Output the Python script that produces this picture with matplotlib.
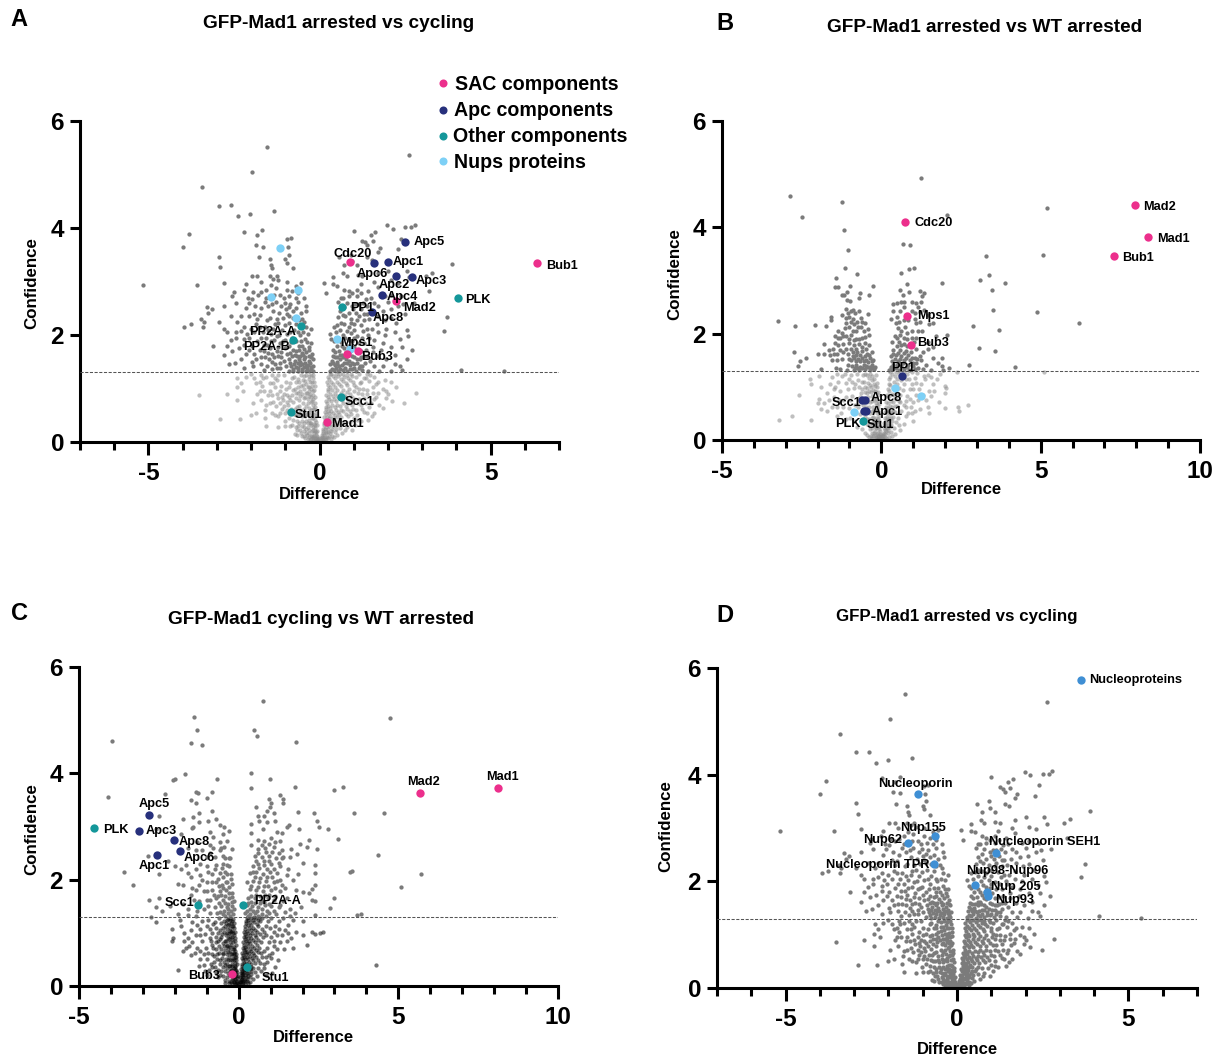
import matplotlib
matplotlib.use("Agg")
import matplotlib.pyplot as plt

W, H = 1223, 1059
plt.rcParams['font.family'] = ['Liberation Sans', 'DejaVu Sans']
plt.rcParams['axes.unicode_minus'] = False

GREY = '#7b7b7b'
PINK = '#ec2f8c'
NAVY = '#27307c'
TEAL = '#14979a'
SKY = '#7dd0f6'
BLUE = '#3f8fd4'

# panels A and D show the same proteins
ad_upper = [
    (-1.53,5.52),(-1.96,5.05),(-3.42,4.77),(-2.95,4.42),(-2.58,4.43),(-1.32,4.32),(-2.37,4.22),(-2.02,4.27),
    (-3.82,3.88),(-3.99,3.64),(-2.2,3.93),(-1.67,3.96),(-1.82,3.86),(-.96,3.79),(-.84,3.81),(-1.87,3.68),
    (-1.66,3.65),(-.92,3.64),(-2.95,3.46),(-2.9,3.27),(-5.16,2.94),(-3.58,2.94),(-2.8,2.98),(2.63,5.36),
    (1.0,3.95),(1.97,4.05),(2.14,3.99),(2.51,4.02),(2.67,4.02),(2.78,4.06),(2.38,3.8),(3.88,3.32),(3.2,2.82),
    (3.72,2.33),(3.63,2.08),(4.13,1.35),(5.38,1.32),(1.63,3.92),(1.5,3.86),(1.24,3.76),(1.34,3.74),(1.39,3.68),
    (1.76,3.63),(1.7,3.56),(2.28,3.6),(1.55,3.75),(.57,3.45),(1.4,3.45),(1.52,3.41),(.92,3.5),(.95,3.38),(1.1,3.3),
    (.72,3.3),(.7,3.15),(1.12,3.12),(1.25,3.1),(.4,3.08),(.8,3.1),(1.7,3.15),(2.0,3.2),(2.55,3.2),(2.62,3.08),
    (3.12,3.1),(3.3,3.16),(2.1,3.02),(2.3,2.98),(1.6,3.0),(1.7,2.9),(.12,2.97),(.4,2.95),(.52,2.92),(.72,2.85),
    (1.2,2.95),(.68,2.7),(.18,2.78),(.95,2.78),(.85,2.72),(1.1,2.72),(1.22,2.78),(1.42,2.82),(1.5,2.7),(2.1,2.75),
    (2.38,2.72),(2.0,2.62),(.55,2.62),(.8,2.6),(1.05,2.58),(1.28,2.6),(1.72,2.55),(.6,2.45),(.98,2.48),(1.22,2.48),
    (1.38,2.4),(1.85,2.45),(2.08,2.48),(2.45,2.58),(2.75,2.6),(.55,2.33),(.75,2.35),(.92,2.3),(1.15,2.35),(1.3,2.28),
    (1.45,2.3),(2.1,2.32),(2.5,2.4),(.52,2.18),(.72,2.2),(.85,2.15),(1.02,2.2),(1.2,2.18),(1.38,2.12),(1.68,2.2),
    (2.55,2.1),(2.2,2.05),(.3,2.02),(.48,2.05),(.7,2.0),(.92,2.03),(1.1,1.98),(1.42,2.0),(1.9,2.0),(2.35,1.93),
    (2.6,1.98),(.42,1.88),(.62,1.86),(.85,1.9),(1.3,1.85),(1.6,1.9),(2.1,1.78),(2.42,1.78),(2.7,1.72),(.4,1.72),
    (.58,1.7),(.72,1.75),(1.02,1.78),(1.22,1.7),(1.55,1.68),(.45,1.58),(.6,1.55),(.78,1.56),(.95,1.6),(1.1,1.55),
    (1.4,1.6),(1.72,1.6),(2.2,1.62),(2.55,1.55),(.32,1.45),(.45,1.44),(.58,1.42),(.72,1.47),(.88,1.43),(1.02,1.46),
    (1.18,1.42),(1.32,1.48),(1.6,1.42),(2.35,1.42),(2.42,1.35),(.3,1.33),(.42,1.35),(.55,1.32),(.68,1.35),(.8,1.33),
    (.95,1.36),(1.08,1.33),(1.25,1.35),(1.42,1.33),(1.75,1.33),(2.08,1.32),(.36,1.52),(.5,1.5),(.66,1.62),(.85,1.66),
    (-1.78,3.45),(-1.45,3.42),(-1.42,3.3),(-1.0,3.42),(-.9,3.5),(-.95,3.35),(-.78,3.25),(-1.4,3.25),(-1.82,3.1),
    (-1.97,3.1),(-1.45,3.1),(-1.35,3.05),(-1.25,3.1),(-1.2,3.02),(-.95,3.0),(-.55,2.97),(-.7,2.92),(-1.72,3.0),
    (-2.15,2.95),(-2.22,2.85),(-1.42,2.93),(-1.27,2.88),(-.96,2.85),(-.62,2.78),(-2.5,2.8),(-2.55,2.72),(-2.1,2.7),
    (-1.98,2.68),(-1.8,2.75),(-1.7,2.8),(-1.15,2.75),(-.88,2.72),(-.7,2.7),(-.45,2.7),(-2.45,2.6),(-2.07,2.6),
    (-1.88,2.55),(-1.6,2.62),(-1.02,2.6),(-.85,2.58),(-.62,2.62),(-.4,2.55),(-3.3,2.53),(-3.15,2.48),(-3.25,2.42),
    (-2.8,2.55),(-1.35,2.45),(-1.17,2.42),(-.98,2.48),(-.78,2.45),(-.55,2.42),(-.38,2.45),(-3.45,2.3),(-3.38,2.25),
    (-2.3,2.35),(-2.05,2.35),(-1.75,2.38),(-1.45,2.32),(-1.08,2.32),(-.9,2.35),(-.5,2.3),(-3.95,2.15),(-3.75,2.2),
    (-3.4,2.15),(-2.95,2.25),(-2.8,2.12),(-2.4,2.25),(-2.2,2.15),(-1.85,2.2),(-1.6,2.15),(-1.3,2.2),(-1.02,2.18),
    (-.75,2.1),(-.4,2.15),(-.25,2.12),(-2.7,2.05),(-2.45,2.05),(-2.12,2.02),(-1.9,2.05),(-1.42,2.02),(-1.18,2.0),
    (-.95,2.02),(-.58,2.0),(-.35,2.02),(-2.45,1.95),(-2.2,1.92),(-1.72,1.95),(-1.32,1.9),(-1.08,1.88),(-.68,1.88),
    (-.42,1.92),(-3.12,1.8),(-2.7,1.8),(-2.2,1.82),(-1.98,1.8),(-1.52,1.82),(-1.22,1.78),(-.9,1.8),(-.6,1.8),
    (-.32,1.78),(-.25,1.85),(-2.8,1.62),(-2.15,1.65),(-1.9,1.65),(-1.62,1.7),(-1.38,1.65),(-1.12,1.68),(-.85,1.66),
    (-.68,1.7),(-.52,1.66),(-.38,1.68),(-.22,1.65),(-2.65,1.45),(-2.48,1.48),(-2.2,1.38),(-1.98,1.5),(-1.72,1.45),
    (-1.48,1.55),(-1.3,1.45),(-1.05,1.52),(-.88,1.55),(-.72,1.52),(-.6,1.56),(-.45,1.55),(-.32,1.52),(-.2,1.55),
    (-1.62,1.35),(-1.4,1.36),(-1.15,1.38),(-.98,1.42),(-.82,1.42),(-.7,1.4),(-.58,1.44),(-.46,1.4),(-.35,1.44),
    (-.26,1.4),(-.18,1.42),(-.9,1.33),(-.76,1.32),(-.64,1.33),(-.52,1.32),(-.4,1.33),(-.3,1.32),(-.2,1.33),(-.56,1.5),
    (-.42,1.48),(-.66,1.6),(-.48,1.62),(-.3,1.6),
]
# second pass over the crowded arms of the V
ad_upper_core = [
    (-.78,1.36),(-.62,1.38),(-.5,1.37),(-.37,1.38),(-.24,1.36),(-.86,1.48),(-.75,1.46),(-.64,1.47),(-.52,1.45),(-.39,1.42),(-.27,1.47),
    (-.8,1.6),(-.72,1.62),(-.57,1.6),(-.42,1.58),(-.24,1.58),(-.95,1.65),(-.78,1.72),(-.6,1.72),(-.45,1.74),(-.3,1.72),(-1.0,1.75),
    (-.82,1.86),(-.55,1.88),(-.5,1.8),(-.36,1.86),(-1.22,1.6),(-1.15,1.47),(-1.38,1.5),(-1.25,1.7),(-1.45,1.75),(-1.02,1.9),(-.8,1.95),
    (-.62,2.05),(-.47,2.05),(-.85,2.05),(-1.1,2.1),(-1.25,1.98),(-.68,2.2),(-.88,2.22),(-1.2,2.22),(-.6,2.28),(-.76,2.32),(-.95,2.4),
    (-1.55,1.95),(-1.65,2.05),(-1.82,1.88),(-1.6,1.58),(-1.85,1.55),(-.45,2.25),(-.68,2.5),(-.9,2.52),(-1.12,2.55),(-1.28,2.62),
    (-1.5,2.55),(-1.7,2.5),(-1.9,2.4),(-1.05,2.7),(-.8,2.82),(-1.55,2.7),(-1.32,2.75),
    (.36,1.36),(.48,1.38),(.6,1.37),(.74,1.39),(.88,1.37),(1.0,1.39),(1.15,1.38),(.4,1.48),(.52,1.45),(.65,1.44),(.8,1.47),(.94,1.48),
    (1.1,1.47),(1.25,1.42),(.38,1.6),(.52,1.58),(.7,1.58),(.86,1.52),(1.02,1.58),(1.18,1.55),(1.3,1.6),(.46,1.68),(.6,1.62),(.78,1.68),
    (.92,1.72),(1.1,1.68),(1.35,1.72),(.5,1.8),(.66,1.8),(.82,1.8),(.96,1.88),(1.15,1.85),(.34,1.92),(.55,1.95),(.75,1.94),(1.0,1.95),
    (1.25,1.95),(.42,2.15),(.6,2.1),(.8,2.08),(1.0,2.1),(1.28,2.08),(.62,2.22),(.92,2.22),(1.1,2.28),(.68,2.38),(.85,2.42),(1.08,2.42),
    (1.3,2.4),(.72,2.52),(.95,2.55),(1.15,2.58),(1.4,2.55),(.62,2.7),(1.35,2.68),(.85,2.82),(1.1,2.85),
    (-1.12,1.58),(-1.32,1.58),(-1.5,1.66),(-1.75,1.72),(-2.05,1.72),(-2.35,1.75),(-1.95,1.42),(-1.52,1.42),(-1.25,1.38),(-1.72,1.58),(-2.3,1.55),
    (-1.15,1.85),(-1.42,1.88),(-1.62,1.82),(-2.05,1.95),(-2.3,2.08),(-1.5,2.1),(-1.35,2.12),(-1.75,2.15),(-2.0,2.12),(-1.52,2.28),(-1.25,2.3),
    (-1.82,2.3),(-2.15,2.5),(-1.38,2.58),(-1.95,2.8),(-1.55,2.85),(-2.6,2.35),(-2.55,1.7),(-2.6,1.9),
    (1.22,1.58),(1.48,1.52),(1.55,1.78),(1.8,1.72),(1.95,1.55),(1.85,1.42),(1.45,1.95),(1.7,2.05),(1.95,2.12),(1.52,2.12),(1.58,2.42),(1.72,2.35),
    (1.92,2.28),(1.6,2.6),(1.9,2.72),(2.25,2.22),(2.3,2.55),(1.85,1.85),(2.2,1.45),
]

ad_lower = [
    (-3.52,.87),(-2.7,.9),(-2.41,.78),(-2.9,.43),(-2.32,.43),(2.83,.92),(2.47,.72),(-2.4,1.2),(-2.3,1.1),(-2.42,1.02),
    (-2.15,1.22),(-2.0,1.28),(-1.75,1.12),(-1.68,1.05),(-1.62,.95),(-1.72,.78),(-1.55,.7),(-1.95,.72),(-2.0,.5),
    (-1.85,.55),(-1.6,.45),(-1.4,1.25),(-1.45,1.1),(-1.3,1.02),(-1.38,.88),(-1.22,.82),(-1.15,.95),(-1.28,.68),
    (-1.4,.55),(-1.1,.62),(-1.2,.48),(-1.02,.4),(-1.05,1.25),(-.98,1.12),(-.9,1.02),(-.96,.88),(-.85,.78),(-.92,.7),
    (-.82,.62),(-.9,.45),(-.78,.42),(-.85,.3),(-.7,.28),(-.75,1.22),(-.68,1.12),(-.72,1.0),(-.62,.92),(-.7,.82),
    (-.6,.78),(-.66,.66),(-.56,.6),(-.64,.5),(-.52,.48),(-.6,.36),(-.5,.3),(-.58,.22),(-.44,.2),(-.55,1.25),(-.48,1.15),
    (-.55,1.05),(-.44,1.0),(-.5,.9),(-.42,.85),(-.48,.72),(-.4,.68),(-.45,.55),(-.36,.52),(-.4,.4),(-.34,.36),(-.38,.25),
    (-.3,.22),(-.36,.14),(-.26,.12),(-.38,1.25),(-.32,1.18),(-.38,1.08),(-.3,1.02),(-.36,.92),(-.28,.9),(-.34,.8),
    (-.26,.75),(-.32,.64),(-.24,.6),(-.28,.5),(-.22,.44),(-.26,.32),(-.2,.28),(-.22,.2),(-.16,.16),(-.18,.1),(-.12,.08),
    (-.14,.04),(-.08,.03),(-.05,.06),(-.1,.14),(-.25,1.25),(-.22,1.12),(-.26,1.0),(-.2,.95),(-.24,.85),(-.18,.8),(-.2,.7),
    (-.16,.62),(-.18,.52),(-.14,.42),(-.16,.34),(-.12,.26),(-.09,.18),(-.06,.11),(-.03,.02),(-.18,1.2),(-.14,1.05),
    (-.13,.72),(-.11,.55),(-.1,.38),(-.3,.42),(-.44,.12),(-.34,.06),(-.24,.05),(-.18,.04),(-.52,.12),(-.66,.14),
    (-1.2,.28),(-1.55,.3),(-1.82,.9),(-2.25,.95),(-1.55,1.22),(-1.25,1.15),(-1.08,.78),(-.72,.15),
    (.03,.02),(.06,.05),(.1,.03),(.15,.06),(.08,.1),(.2,.05),(.26,.08),(.14,.14),(.34,.06),(.42,.1),(.2,.16),(.11,.2),
    (.3,.16),(.5,.14),(.66,.16),(.16,.24),(.25,.25),(.36,.24),(.48,.24),(.6,.26),(.8,.28),(.14,.32),(.22,.34),(.32,.34),
    (.44,.32),(.56,.36),(.72,.38),(.95,.22),(1.05,.32),(.17,.42),(.27,.44),(.38,.44),(.5,.46),(.64,.46),(.82,.48),
    (1.0,.44),(1.2,.4),(1.42,.42),(1.52,.48),(.18,.52),(.28,.55),(.4,.54),(.54,.56),(.7,.58),(.88,.58),(1.08,.6),(1.3,.56),
    (1.6,.55),(.2,.62),(.3,.64),(.44,.66),(.6,.68),(.76,.68),(.96,.7),(1.2,.7),(1.45,.66),(1.75,.7),(1.85,.64),(.22,.72),
    (.34,.76),(.48,.76),(.66,.78),(.84,.78),(1.04,.8),(1.3,.82),(1.58,.8),(1.95,.82),(2.12,.76),(.24,.84),(.38,.86),
    (.52,.86),(.72,.88),(.9,.9),(1.12,.92),(1.38,.9),(1.7,.92),(2.0,.9),(.26,.95),(.36,.98),(.5,.97),(.68,.98),(.86,1.0),
    (1.06,1.02),(1.26,1.0),(1.55,1.02),(1.85,1.0),(2.25,1.02),(.25,1.06),(.4,1.08),(.56,1.08),(.76,1.1),(.98,1.12),
    (1.18,1.1),(1.45,1.14),(1.72,1.12),(.28,1.17),(.44,1.19),(.62,1.18),(.82,1.2),(1.06,1.22),(1.3,1.2),(1.6,1.22),
    (.3,1.27),(.48,1.27),(.7,1.27),(.92,1.28),(1.14,1.28),(1.4,1.27),
]
ad_lower_core = [
    (-.8,1.2),(-.62,1.18),(-.46,1.24),(-.3,1.24),(-.2,1.26),(-.85,1.1),(-.6,1.12),(-.42,1.14),(-.28,1.12),(-.16,1.12),(-.78,.98),(-.62,1.02),
    (-.47,1.06),(-.35,1.02),(-.22,1.04),(-.8,.88),(-.56,.96),(-.4,.92),(-.3,.96),(-.16,.98),(-.76,.74),(-.58,.86),(-.45,.82),(-.3,.86),(-.2,.88),
    (-.72,.62),(-.6,.68),(-.44,.62),(-.34,.72),(-.22,.76),(-.14,.84),(-.7,.5),(-.56,.52),(-.42,.48),(-.3,.56),(-.2,.62),(-.12,.66),(-.66,.4),
    (-.52,.4),(-.46,.36),(-.28,.36),(-.18,.44),(-.1,.48),(-.62,.3),(-.44,.28),(-.34,.28),(-.24,.36),(-.14,.32),(-.08,.32),(-.54,.16),(-.4,.17),
    (-.3,.17),(-.2,.22),(-.12,.2),(-.06,.2),(-.42,.08),(-.3,.09),(-.22,.11),(-.15,.12),(-.08,.08),(-.02,.08),(-.28,.03),(-.2,.07),(-.1,.05),(-.04,.04),
    (-1.0,.55),(-1.15,.72),(-1.05,.9),(-1.25,.9),(-1.0,.3),(-.95,.6),(-.9,.85),(-.98,1.0),(-1.12,1.05),(-1.3,1.2),
    (.04,.07),(.1,.08),(.16,.1),(.22,.1),(.28,.12),(.36,.12),(.06,.14),(.1,.16),(.18,.18),(.26,.19),(.35,.2),(.44,.18),(.1,.24),(.2,.28),(.29,.3),
    (.4,.29),(.52,.31),(.13,.36),(.19,.36),(.26,.37),(.34,.4),(.44,.4),(.6,.4),(.14,.46),(.22,.46),(.32,.48),(.44,.5),(.58,.52),(.76,.52),(.16,.56),
    (.24,.58),(.34,.58),(.47,.6),(.62,.6),(.8,.62),(.18,.66),(.26,.68),(.36,.7),(.52,.7),(.68,.72),(.86,.72),(.2,.76),(.28,.8),(.42,.8),(.58,.82),
    (.76,.84),(.96,.84),(.2,.88),(.32,.9),(.46,.92),(.62,.92),(.8,.94),(1.02,.95),(.24,1.0),(.32,1.02),(.46,1.02),(.62,1.04),(.8,1.06),(1.0,1.07),
    (.22,1.12),(.35,1.13),(.5,1.13),(.68,1.14),(.88,1.16),(.24,1.22),(.38,1.23),(.54,1.23),(.72,1.22),(.96,1.24),(.35,1.28),(.6,1.28),(.8,1.26),
    (1.1,.5),(1.15,.8),(1.25,.9),(1.35,.72),(.9,.38),(.75,.22),
    (-1.7,1.25),(-1.85,1.1),(-1.5,.88),(-1.35,.75),(-1.58,.6),(-1.3,.5),(-1.15,.55),(-1.05,.68),(-1.2,1.25),(-1.35,1.1),(-1.1,.85),(-.95,.75),
    (-.88,.55),(-.75,.52),(-.7,.92),(-.8,.32),(-.65,.22),(-1.45,.95),(-1.65,1.2),(-1.9,1.2),(-1.45,.72),(-1.75,.95),
    (1.12,.72),(1.25,.62),(1.38,.55),(1.5,.72),(1.65,.85),(1.4,.98),(1.55,.92),(1.22,1.12),(1.35,1.2),(1.65,1.08),(1.9,1.15),(1.95,.95),(1.1,.42),
    (.92,.52),(.98,.62),(1.15,1.0),(1.48,1.26),(2.1,1.12),
]

b_upper = [
    (-2.88,4.58),(-2.48,4.2),(-1.22,4.47),(-1.17,3.95),(-1.05,3.58),(-1.13,3.24),(-.75,3.12),(-1.43,3.05),(-1.45,2.88),
    (-1.37,2.88),(-.98,2.9),(-.25,2.89),(-1.08,2.78),(-1.25,2.72),(-1.17,2.72),(-.67,2.76),(-.4,2.72),(-.7,2.68),
    (-1.08,2.63),(-.98,2.62),(-1.1,2.46),(-1.05,2.38),(-.95,2.42),(-.88,2.44),(-.42,2.37),(-3.25,2.24),(-2.7,2.14),
    (-2.07,2.16),(-1.75,2.15),(-1.58,2.32),(-1.58,2.25),(-1.12,2.3),(-1.0,2.32),(-.88,2.28),(-.65,2.3),(-.6,2.22),
    (-.5,2.2),(-1.35,2.05),(-1.25,2.02),(-1.15,2.1),(-1.02,2.12),(-.85,2.18),(-.72,2.12),(-.55,2.05),(-.42,2.08),
    (-1.45,1.95),(-1.3,1.92),(-1.1,1.96),(-.95,1.98),(-.78,1.9),(-.6,1.92),(-.4,1.98),(-1.8,1.8),(-1.45,1.82),(-1.52,1.72),
    (-1.35,1.78),(-1.2,1.8),(-1.0,1.82),(-.85,1.78),(-.7,1.8),(-.5,1.82),(-.38,1.78),(-2.75,1.65),(-2.0,1.62),(-1.8,1.62),
    (-1.6,1.6),(-1.4,1.62),(-1.2,1.65),(-1.05,1.62),(-.9,1.66),(-.75,1.65),(-.6,1.68),(-.45,1.62),(-.3,1.65),(-2.35,1.55),
    (-2.55,1.48),(-1.55,1.5),(-1.25,1.52),(-1.0,1.52),(-.85,1.54),(-.72,1.52),(-.6,1.54),(-.48,1.5),(-.35,1.54),(-.25,1.5),
    (-2.62,1.39),(-1.9,1.34),(-1.42,1.36),(-1.3,1.34),(-1.05,1.42),(-.92,1.4),(-.78,1.42),(-.66,1.38),(-.55,1.42),
    (-.42,1.38),(-.3,1.42),(-.2,1.38),(-1.08,1.32),(-.85,1.32),(-.7,1.32),(-.5,1.33),(-.36,1.32),(-.22,1.33),
    (1.26,4.93),(2.07,4.23),(.68,3.68),(.89,3.67),(3.27,3.47),(5.07,3.48),(5.2,4.37),(.87,3.21),(1.01,3.23),(.62,3.15),
    (3.37,3.1),(3.1,3.0),(3.89,2.96),(1.89,2.95),(.8,2.93),(.6,2.82),(.88,2.78),(1.2,2.8),(.68,2.72),(1.33,2.76),(1.28,2.7),
    (.48,2.58),(.62,2.6),(.7,2.6),(.95,2.6),(1.1,2.58),(1.25,2.6),(3.47,2.82),(.38,2.56),(3.5,2.45),(4.87,2.4),(.38,2.42),
    (1.35,2.45),(1.2,2.4),(1.05,2.38),(.6,2.42),(1.45,2.35),(.3,2.28),(.55,2.22),(.7,2.25),(1.05,2.28),(1.1,2.2),(1.63,2.2),
    (1.5,2.18),(2.89,2.14),(6.2,2.2),(3.7,2.06),(.52,2.1),(.75,2.12),(.95,2.05),(1.28,2.05),(1.7,1.96),(2.05,1.97),(.42,1.95),
    (.6,1.98),(.82,1.9),(1.1,1.92),(1.45,1.85),(.35,1.85),(.55,1.85),(.7,1.8),(1.62,1.75),(1.45,1.72),(3.08,1.73),(3.58,1.68),
    (.38,1.7),(.58,1.7),(.78,1.68),(1.1,1.72),(1.3,1.65),(.3,1.58),(.45,1.6),(.62,1.58),(.85,1.6),(1.05,1.55),(1.2,1.58),
    (1.62,1.55),(1.9,1.55),(.35,1.48),(.52,1.48),(.7,1.5),(.9,1.5),(1.1,1.45),(1.25,1.5),(1.78,1.45),(.3,1.38),(.45,1.36),
    (.62,1.4),(.8,1.38),(.98,1.4),(1.15,1.36),(1.4,1.42),(1.9,1.4),(2.13,1.36),(2.75,1.41),(4.2,1.38),(.25,1.32),(.55,1.32),
    (.72,1.33),(.88,1.32),(1.05,1.33),(1.32,1.33),(1.55,1.32),(1.95,1.32),
]
b_upper_core = [
    (-.82,1.36),(-.72,1.36),(-.6,1.36),(-.48,1.4),(-.36,1.38),(-.26,1.36),(-.95,1.5),(-.78,1.48),(-.66,1.48),(-.54,1.48),(-.42,1.46),(-.3,1.48),
    (-.9,1.58),(-.8,1.6),(-.66,1.6),(-.52,1.58),(-.38,1.6),(-.95,1.72),(-.78,1.72),(-.62,1.74),(-.48,1.72),(-1.1,1.72),(-1.3,1.7),(-1.0,1.9),
    (-.85,1.88),(-.7,1.9),(-.52,1.94),(-1.2,1.95),(-.9,2.05),(-.78,2.05),(-.65,2.12),(-1.1,2.2),(-.95,2.22),(-.75,2.22),(-.82,2.38),
    (-1.4,1.5),(-1.5,1.62),(-1.65,1.7),(-1.35,1.92),(-.7,2.42),(-1.25,2.35),
    (.3,1.34),(.38,1.42),(.5,1.42),(.68,1.44),(.84,1.42),(1.0,1.45),(.42,1.52),(.6,1.52),(.78,1.54),(.95,1.55),(1.12,1.52),(.38,1.62),(.52,1.64),
    (.7,1.64),(.92,1.66),(.48,1.76),(.62,1.78),(.82,1.76),(1.02,1.84),(.48,1.92),(.7,1.92),(.95,1.92),(.62,2.05),(.82,2.02),(1.15,2.05),(.45,2.2),
    (.85,2.25),(1.2,2.22),(.5,2.32),(.95,2.42),(.72,2.5),(1.15,2.5),
]

b_lower = [
    (-3.2,.38),(-2.8,.46),(-2.2,.38),(-2.58,.85),(-2.25,1.15),(-2.2,1.05),(-1.95,1.2),(-1.9,1.0),(-1.95,.78),(-2.0,.7),(-1.8,.7),
    (-1.9,.58),(-1.7,.55),(-1.72,.88),(-1.55,1.18),(-1.6,1.05),(-1.5,.95),(-1.5,.8),(-1.55,.62),(-1.4,.45),(-1.38,1.25),(-1.35,1.1),
    (-1.3,.92),(-1.32,.75),(-1.2,.62),(-1.28,.5),(-1.1,.4),(-1.15,1.25),(-1.12,1.08),(-1.05,.95),(-1.1,.8),(-1.02,.6),(-.98,.42),
    (-.95,1.22),(-.92,1.1),(-.86,.98),(-.92,.82),(-.82,.66),(-.86,.36),(-.76,.24),(-.75,1.25),(-.72,1.12),(-.7,1.0),(-.65,.88),
    (-.72,.62),(-.66,.48),(-.62,.2),(-.58,1.22),(-.55,1.1),(-.6,.95),(-.5,.9),(-.56,.66),(-.48,.62),(-.52,.44),(-.46,.3),(-.52,.14),
    (-.44,1.22),(-.42,1.08),(-.46,.98),(-.38,.92),(-.42,.8),(-.36,.72),(-.4,.62),(-.34,.5),(-.38,.4),(-.3,.32),(-.36,.2),(-.3,.14),
    (-.34,1.25),(-.3,1.12),(-.32,1.0),(-.26,.94),(-.3,.82),(-.24,.75),(-.27,.62),(-.22,.56),(-.25,.44),(-.2,.38),(-.22,.28),(-.16,.24),
    (-.2,.16),(-.14,.12),(-.26,.08),(-.16,.06),(-.1,.07),(-.07,.03),(-.22,1.15),(-.2,1.02),(-.16,.9),(-.18,.78),(-.14,.65),(-.15,.5),
    (-.12,.4),(-.1,.3),(-.08,.2),(-.05,.12),(-.03,.05),(-.44,.1),(-.38,.06),(-.28,.04),(-.18,.03),(-.1,.02),
    (.02,.03),(.06,.02),(.1,.05),(.16,.03),(.24,.05),(.32,.08),(.05,.08),(.12,.11),(.2,.13),(.3,.15),(.44,.12),(.6,.18),(.1,.18),
    (.18,.22),(.28,.24),(.4,.22),(.55,.28),(.12,.28),(.22,.32),(.32,.35),(.46,.34),(.7,.3),(.15,.38),(.25,.42),(.38,.44),(.52,.42),
    (.78,.45),(.98,.36),(.18,.5),(.3,.53),(.44,.52),(.62,.55),(.85,.5),(1.05,.55),(1.5,.5),(.2,.6),(.34,.62),(.5,.64),(.7,.65),(.92,.62),
    (1.2,.58),(1.45,.62),(.22,.7),(.36,.72),(.54,.74),(.76,.74),(1.0,.72),(1.4,.75),(1.82,.72),(2.72,.65),(2.4,.62),(.24,.82),(.4,.84),
    (.6,.84),(.82,.82),(1.08,.85),(1.55,.82),(2.0,.6),(2.45,.55),(.25,.92),(.42,.94),(.68,.94),(.9,.95),(1.18,.95),(1.5,.92),(2.0,.88),
    (2.03,.98),(.28,1.04),(.48,1.05),(.72,1.05),(.95,1.06),(1.25,1.05),(1.62,1.05),(2.0,1.02),(.25,1.14),(.5,1.15),(.78,1.14),(1.05,1.16),
    (1.38,1.15),(1.75,1.15),(.32,1.24),(.55,1.25),(.8,1.24),(1.12,1.26),(1.45,1.22),(1.85,1.24),(2.37,1.28),(5.1,1.27),
]
b_lower_core = [
    (-.5,1.24),(-.4,1.16),(-.28,1.2),(-.18,1.22),(-.5,1.0),(-.36,1.04),(-.24,1.06),(-.14,1.08),(-.44,.88),(-.32,.9),(-.2,.92),(-.12,.9),(-.46,.72),
    (-.3,.74),(-.18,.7),(-.1,.74),(-.42,.54),(-.28,.54),(-.18,.56),(-.09,.6),(-.44,.4),(-.3,.42),(-.16,.42),(-.08,.46),(-.36,.3),(-.24,.34),
    (-.14,.34),(-.06,.36),(-.28,.22),(-.18,.22),(-.1,.24),(-.04,.26),(-.22,.14),(-.1,.14),(-.04,.16),(-.32,.08),(-.2,.1),(-.06,.08),(-.02,.1),(-.12,.04),
    (-.14,.99),(-.1,.84),(-.08,.68),(-.06,.52),(-.52,.78),(-.6,.52),(-.56,.32),
    (.04,.12),(.08,.14),(.14,.16),(.22,.18),(.02,.08),(.07,.22),(.14,.24),(.22,.26),(.3,.28),(.08,.32),(.15,.32),(.22,.38),(.3,.42),(.1,.42),(.18,.44),
    (.26,.48),(.12,.52),(.22,.54),(.36,.54),(.14,.62),(.26,.64),(.42,.64),(.16,.72),(.3,.74),(.46,.78),(.18,.84),(.32,.86),(.5,.88),(.2,.96),(.36,.98),
    (.56,.98),(.24,1.06),(.4,1.1),(.62,1.12),(.26,1.18),(.42,1.2),(.68,1.2),(.28,1.28),(.46,1.28),(.72,1.28),(.95,1.28),
    (-1.25,1.2),(-1.45,1.0),(-1.2,.75),(-1.38,.62),(-1.65,.75),(-.98,.75),(-.8,.5),(-.82,1.05),(-1.0,1.15),(-.68,.8),(-.62,1.1),(-.9,.55),
    (1.0,.95),(1.15,.75),(1.3,.85),(1.35,1.2),(.9,.78),(.6,.72),(.78,.62),(1.1,1.08),(.88,1.14),(1.55,1.18),(1.65,.92),(.95,.5),
]

c_upper = [
    (.77,5.36),(-1.4,5.06),(4.75,5.05),(-1.29,4.81),(.48,4.81),(.58,4.7),(-1.5,4.57),(-1.16,4.53),(1.8,4.58),(-3.97,4.61),
    (.4,4.0),(-1.68,3.98),(-1.98,3.9),(-2.07,3.87),(-.68,3.9),(.98,3.9),(.4,3.73),(1.77,3.75),(3.0,3.69),(3.27,3.75),(-4.1,3.56),
    (-1.35,3.65),(-1.27,3.63),(-.82,3.65),(-2.3,3.62),(-1.5,3.5),(-1.33,3.45),(-1.0,3.54),(1.3,3.6),(.95,3.52),(1.38,3.52),(1.38,3.44),
    (1.0,3.45),(.98,3.36),(.88,3.3),(.55,3.36),(.6,3.2),(.8,3.2),(1.12,3.25),(1.85,3.28),(2.35,3.25),(3.6,3.26),(4.55,3.26),(-.82,3.3),
    (-1.25,3.25),(-1.42,3.18),(-.7,3.15),(-2.5,3.2),(-1.75,3.15),(-1.25,3.08),(-.95,3.1),(-.6,3.02),(-.45,3.0),(.4,3.05),(.65,3.1),
    (.88,3.08),(1.15,3.1),(2.45,3.1),(2.5,3.0),(1.5,3.0),(1.58,3.02),(1.9,2.95),(2.8,2.95),(-1.45,2.98),(-1.42,3.0),(-.9,2.9),(-.3,2.92),
    (-2.6,2.95),(-1.8,2.85),(-.8,2.8),(-.5,2.85),(.4,2.88),(.75,2.95),(1.2,2.9),(1.35,2.88),(3.1,2.77),(2.2,2.75),(-1.3,2.7),(-.9,2.65),
    (-.6,2.7),(-.35,2.72),(.62,2.75),(.8,2.72),(1.0,2.78),(1.3,2.72),(1.92,2.68),(2.15,2.62),(-1.6,2.6),(-1.35,2.55),(-.9,2.5),(-.6,2.55),
    (-.45,2.62),(-.2,2.58),(.4,2.65),(.6,2.58),(.82,2.6),(1.1,2.62),(1.35,2.55),(1.65,2.58),(2.45,2.58),(4.37,2.46),(-2.85,2.45),(-1.0,2.42),
    (-.75,2.42),(-.5,2.45),(-.28,2.4),(.5,2.45),(.72,2.42),(.95,2.45),(1.18,2.4),(1.4,2.42),(1.82,2.48),(-2.2,2.35),(-2.0,2.25),(-1.65,2.28),
    (-1.35,2.2),(-1.0,2.25),(-.72,2.28),(-.48,2.3),(-.3,2.25),(.45,2.25),(.62,2.3),(.8,2.28),(1.02,2.3),(1.28,2.25),(2.0,2.32),(2.4,2.28),
    (-3.6,2.15),(-2.5,2.1),(-1.6,2.12),(-1.2,2.08),(-.85,2.1),(-.6,2.12),(-.42,2.15),(-.25,2.1),(.35,2.12),(.55,2.15),(.75,2.1),(.98,2.15),
    (1.2,2.12),(1.5,2.08),(2.4,2.12),(3.48,2.15),(3.55,2.16),(5.7,2.1),(-3.3,1.9),(-1.9,1.92),(-1.75,1.9),(-1.25,1.9),(-1.0,1.95),(-.72,1.95),
    (-.52,1.9),(-.35,1.95),(-.2,1.92),(.25,1.95),(.45,1.98),(.65,1.95),(.85,1.98),(1.1,1.95),(1.35,1.9),(2.4,1.9),(5.07,1.87),(-2.5,1.65),
    (-1.35,1.8),(-1.1,1.78),(-.85,1.8),(-.6,1.78),(-.4,1.8),(-.22,1.75),(.35,1.82),(.55,1.8),(.75,1.78),(1.0,1.8),(1.28,1.78),(1.8,1.8),
    (2.3,1.82),(2.0,1.76),(2.2,1.75),(-2.8,1.62),(-.9,1.62),(-.72,1.65),(-.5,1.62),(-.3,1.65),(-.15,1.6),(.3,1.65),(.5,1.65),(.7,1.6),(.92,1.65),
    (1.1,1.62),(1.38,1.6),(2.3,1.62),(2.38,1.6),(3.0,1.65),(-2.4,1.42),(-2.6,1.48),(-2.15,1.5),(-1.6,1.45),(-.95,1.5),(-.75,1.48),(-.55,1.5),
    (-.38,1.48),(-.2,1.5),(.25,1.52),(.42,1.5),(.6,1.48),(.82,1.52),(1.02,1.5),(1.25,1.48),(1.95,1.48),(2.85,1.46),(-1.9,1.35),(-1.6,1.34),
    (-.9,1.38),(-.68,1.38),(-.5,1.36),(-.32,1.38),(-.18,1.36),(.2,1.38),(.35,1.36),(.52,1.38),(.72,1.36),(.95,1.38),(1.18,1.36),(1.45,1.4),
    (1.75,1.38),(2.4,1.34),(3.7,1.34),(3.82,1.36),(-2.75,1.3),(-1.35,1.32),(-.42,1.32),(-.28,1.32),(.3,1.32),(.62,1.32),(.85,1.32),(1.6,1.32),
]
c_upper_core = [
    (-.6,1.4),(-.45,1.42),(-.34,1.44),(-.24,1.42),(-.14,1.44),(-.62,1.56),(-.44,1.56),(-.32,1.54),(-.22,1.58),(-.65,1.7),(-.55,1.72),(-.42,1.7),(-.3,1.74),
    (-.2,1.68),(-.78,1.72),(-.5,1.84),(-.3,1.86),(-.62,1.88),(-.4,1.95),(-.25,2.02),(-.5,2.05),(-.35,2.1),(-.65,2.02),(-.52,2.22),(-.38,2.28),(-.3,2.4),
    (-1.0,1.62),(-1.1,1.45),(-1.25,1.6),(-1.0,1.78),(-.85,1.95),(-.75,2.2),(-.42,2.4),(-.55,2.6),
    (.25,1.42),(.35,1.44),(.46,1.42),(.58,1.42),(.72,1.44),(.88,1.42),(.3,1.56),(.4,1.58),(.52,1.56),(.66,1.56),(.78,1.58),(.95,1.55),(.4,1.7),(.55,1.72),(.68,1.7),
    (.82,1.72),(.96,1.72),(1.15,1.7),(.4,1.88),(.62,1.86),(.78,1.88),(.92,1.88),(1.15,1.85),(.5,2.05),(.68,2.03),(.88,2.05),(1.05,2.05),(1.3,2.0),(.45,2.15),(.65,2.22),
    (.9,2.2),(1.12,2.2),(.55,2.36),(.78,2.35),(.95,2.36),(1.25,2.32),(.62,2.5),(.85,2.52),(1.05,2.52),(1.25,2.5),(.72,2.65),(.95,2.68),
    (1.1,1.42),(1.3,1.52),(1.5,1.65),(1.45,1.85),(1.2,1.98),(1.55,2.2),(1.35,2.4),(1.6,1.45),(1.7,2.0),(1.85,2.1),(1.6,2.42),(1.15,2.7),
    (-1.4,1.62),(-1.45,1.85),(-1.15,2.0),(-.95,2.15),(-1.5,2.05),(-1.8,2.2),(-1.2,2.3),(-1.15,2.55),(-.8,2.6),(-1.5,1.72),(-1.75,1.55),(-1.3,1.42),
]

c_lower = [
    (4.3,.39),(-1.9,.31),(-2.6,1.2),(-2.1,1.08),(-2.05,.9),(-2.1,.85),(-1.85,1.25),(-1.8,1.12),(-1.7,1.0),(-1.72,.85),(-1.65,.72),(-1.75,.65),
    (-1.5,.58),(-1.45,1.2),(-1.5,1.05),(-1.35,.95),(-1.45,.82),(-1.3,.72),(-1.38,.62),(-1.2,.5),(-1.1,.4),(-1.25,.38),(-1.15,1.22),(-1.2,1.08),
    (-1.05,.98),(-1.15,.85),(-1.02,.72),(-1.08,.6),(-.98,.5),(-.92,.3),(-1.0,.2),(-.95,1.25),(-.9,1.08),(-.82,1.0),(-.88,.85),(-.8,.72),(-.85,.6),
    (-.78,.46),(-.82,.36),(-.72,.25),(-.75,1.2),(-.7,1.1),(-.72,.92),(-.65,.85),(-.7,.7),(-.62,.62),(-.68,.5),(-.6,.42),(-.65,.3),(-.58,.2),
    (-.62,1.28),(-.55,1.18),(-.6,1.05),(-.52,.98),(-.58,.88),(-.5,.8),(-.55,.7),(-.48,.62),(-.52,.52),(-.46,.45),(-.5,.35),(-.44,.28),(-.48,.18),
    (-.42,.12),(-.46,1.22),(-.42,1.12),(-.46,1.02),(-.4,.95),(-.44,.85),(-.38,.76),(-.42,.68),(-.36,.6),(-.4,.5),(-.35,.42),(-.38,.34),(-.33,.24),
    (-.36,.16),(-.3,.1),(-.36,1.25),(-.32,1.15),(-.36,1.08),(-.3,1.0),(-.34,.9),(-.28,.82),(-.32,.72),(-.26,.65),(-.3,.55),(-.26,.48),(-.28,.38),
    (-.24,.3),(-.26,.2),(-.22,.14),(-.25,.08),(-.28,1.28),(-.24,1.18),(-.28,1.1),(-.23,1.02),(-.26,.94),(-.2,.88),(-.24,.78),(-.19,.7),(-.22,.6),
    (-.18,.52),(-.2,.42),(-.16,.34),(-.18,.25),(-.14,.16),(-.16,.08),(-.2,1.22),(-.17,1.12),(-.2,1.04),(-.15,.96),(-.17,.82),(-.14,.74),(-.15,.62),
    (-.12,.55),(-.13,.44),(-.1,.36),(-.11,.26),(-.08,.18),(-.09,.1),(-.06,.06),(-.03,.03),(-.12,.04),(-.2,.05),(-.14,1.18),(-.12,.9),(-.1,.66),
    (-.08,.48),(-.07,.3),(-.05,.15),(-.3,.05),(-.42,.06),
    (.02,.03),(.05,.07),(.09,.04),(.14,.06),(.2,.04),(.28,.06),(.36,.08),(.07,.12),(.12,.14),(.18,.12),(.25,.14),(.34,.16),(.44,.13),(.56,.18),
    (.09,.2),(.15,.22),(.21,.2),(.3,.24),(.4,.22),(.52,.26),(.7,.28),(.85,.2),(.1,.28),(.17,.3),(.24,.3),(.34,.32),(.46,.34),(.6,.34),(.78,.34),
    (.12,.38),(.19,.4),(.27,.4),(.38,.42),(.5,.44),(.66,.44),(.88,.45),(.13,.48),(.2,.5),(.3,.5),(.41,.52),(.55,.54),(.72,.55),(1.02,.52),(1.22,.48),
    (1.03,.25),(.15,.58),(.22,.6),(.32,.62),(.44,.62),(.6,.64),(.8,.65),(1.05,.62),(.16,.68),(.24,.7),(.34,.7),(.48,.72),(.65,.72),(.9,.72),(1.2,.7),
    (.18,.78),(.26,.8),(.37,.8),(.5,.82),(.7,.82),(.95,.82),(1.3,.82),(1.7,.72),(2.15,.78),(.19,.88),(.28,.9),(.4,.9),(.54,.92),(.75,.92),(1.02,.92),
    (1.35,.95),(1.65,.9),(2.0,.95),(.2,.98),(.3,1.0),(.42,1.0),(.58,1.02),(.8,1.02),(1.1,1.02),(1.45,1.05),(1.8,1.02),(.21,1.08),(.32,1.1),(.45,1.1),
    (.62,1.12),(.85,1.12),(1.15,1.12),(1.55,1.15),(2.3,1.02),(2.55,1.0),(2.4,.98),(.24,1.18),(.34,1.2),(.48,1.2),(.66,1.22),(.92,1.22),(1.25,1.22),
    (1.7,1.25),(2.0,1.22),(2.65,1.02),(.26,1.27),(.4,1.28),(.55,1.28),(.72,1.28),(1.0,1.28),(1.4,1.28),
]
c_lower_core = [
    (-.34,1.26),(-.26,1.24),(-.18,1.26),(-.4,1.18),(-.3,1.16),(-.22,1.12),(-.14,1.1),(-.38,1.0),(-.27,1.04),(-.18,1.0),(-.12,1.02),(-.4,.84),(-.3,.88),(-.22,.92),
    (-.13,.84),(-.36,.78),(-.26,.74),(-.16,.7),(-.09,.78),(-.34,.64),(-.24,.6),(-.14,.6),(-.08,.6),(-.32,.48),(-.22,.48),(-.14,.48),(-.07,.54),(-.3,.38),(-.22,.38),
    (-.12,.38),(-.05,.42),(-.28,.28),(-.2,.3),(-.12,.3),(-.05,.26),(-.22,.2),(-.14,.22),(-.07,.22),(-.02,.18),(-.18,.14),(-.11,.14),(-.04,.1),(-.14,.08),(-.07,.02),
    (-.5,.6),(-.46,.75),(-.54,.92),(-.48,1.1),(-.42,.4),(-.56,.28),(-.66,.16),(-.58,.48),(-.75,.35),(-.68,.6),(-.62,.75),
    (.04,.1),(.08,.08),(.13,.1),(.2,.09),(.26,.1),(.04,.16),(.09,.16),(.15,.17),(.22,.16),(.3,.19),(.06,.24),(.12,.24),(.18,.26),(.25,.24),(.38,.28),(.08,.32),(.14,.34),
    (.21,.34),(.28,.36),(.4,.36),(.09,.42),(.16,.44),(.23,.44),(.32,.46),(.44,.48),(.11,.52),(.18,.54),(.25,.55),(.35,.56),(.48,.58),(.12,.62),(.19,.64),(.27,.64),(.38,.66),
    (.54,.67),(.14,.72),(.21,.74),(.29,.75),(.42,.76),(.58,.77),(.15,.82),(.22,.84),(.32,.85),(.45,.86),(.62,.87),(.16,.92),(.24,.94),(.35,.95),(.5,.96),(.68,.97),(.18,1.02),
    (.26,1.04),(.38,1.05),(.52,1.06),(.72,1.08),(.2,1.13),(.28,1.14),(.4,1.15),(.56,1.16),(.22,1.23),(.3,1.24),(.44,1.24),(.6,1.25),(.3,1.29),(.48,1.29),(.64,1.29),
    (-.9,.9),(-.82,.78),(-.95,.62),(-.78,.56),(-.88,.42),(-.72,.82),(-.8,1.16),(-.66,1.0),(-1.0,1.12),(-1.22,.95),(-1.3,1.15),(-1.58,.9),(-1.55,.75),(-1.2,.65),(-1.05,.28),
    (.78,.42),(.95,.58),(1.1,.75),(.85,.55),(.98,1.1),(1.2,.95),(1.25,1.08),(1.55,1.0),(.85,.95),(1.1,.85),(1.5,.85),(.7,.62),(1.15,.35),(1.42,.7),(.62,.48),
]

# coloured points per panel
a_sac_x = [6.36, .90, 2.24, .79, 1.12, .22]
a_sac_y = [3.34, 3.36, 2.63, 1.65, 1.71, .37]
a_apc_x = [2.51, 1.60, 1.99, 2.25, 2.71, 1.84, 1.52]
a_apc_y = [3.74, 3.35, 3.37, 3.10, 3.09, 2.75, 2.43]
a_oth_x = [4.06, .65, -.54, -.78, .64, -.82]
a_oth_y = [2.69, 2.53, 2.17, 1.90, .84, .57]
a_nup_x = [-1.16, -.64, -1.43, -.69, .52, .90]
a_nup_y = [3.63, 2.84, 2.71, 2.31, 1.93, 1.73]

b_sac_x = [7.96, 8.37, 7.31, .75, .80, .92]
b_sac_y = [4.42, 3.82, 3.46, 4.10, 2.34, 1.78]
b_apc_x = [.64, -.61, -.52, -.55, -.47]
b_apc_y = [1.21, .75, .745, .545, .55]
b_oth_x = [-.57]
b_oth_y = [.36]
b_nup_x = [.44, 1.25, -.86]
b_nup_y = [.98, .83, .53]

c_sac_x = [8.13, 5.69, -.21]
c_sac_y = [3.73, 3.63, .23]
c_apc_x = [-2.82, -3.13, -2.04, -1.85, -2.57]
c_apc_y = [3.21, 2.92, 2.74, 2.54, 2.47]
c_oth_x = [-4.53, -1.27, .15, .25]
c_oth_y = [2.98, 1.52, 1.53, .35]

d_nup_x = [3.61, -1.15, -.63, -1.43, -.68, 1.14, .52, .87, .90]
d_nup_y = [5.78, 3.64, 2.85, 2.72, 2.32, 2.54, 1.94, 1.80, 1.73]

# label text with its left edge and centre height in reference pixels
a_labels = [('Apc5',414,241),('Cdc20',333,253),('Apc1',393,261),('Apc6',357,273),('Apc2',379,284),('Apc3',416,280),
            ('Apc4',387,296),('Mad2',403,307),('PP1',350,307),('Apc8',373,317),('PP2A-A',249,331),('PP2A-B',243,346),
            ('Mps1',340,342),('Bub3',361,356),('Scc1',345,401),('Stu1',295,414),('Mad1',331,423),('Bub1',546,265),('PLK',465,299)]
b_labels = [('Mad2',1143,206),('Mad1',1157,238),('Bub1',1122,257),('Cdc20',915,222),('Mps1',917,315),('Bub3',917,342),
            ('PP1',891,367),('Apc8',871,397),('Scc1',832,402),('Apc1',872,411),('PLK',835,423),('Stu1',867,424)]
c_labels = [('Mad1',486,776),('Mad2',407,781),('Apc5',139,803),('PLK',103,829),('Apc3',146,830),('Apc8',179,841),
            ('Apc6',184,857),('Apc1',139,865),('Scc1',165,902),('PP2A-A',254,900),('Bub3',188,975),('Stu1',262,977)]
d_labels = [('Nucleoproteins',1089,679),('Nucleoporin',878,783),('Nup155',900,827),('Nup62',863,839),('Nucleoporin TPR',826,864),
            ('Nucleoporin SEH1',989,841),('Nup98-Nup96',966,870),('Nup 205',991,886),('Nup93',995,899)]

legend_names = ['SAC components', 'Apc components', 'Other components', 'Nups proteins']
legend_colors = [PINK, NAVY, TEAL, SKY]

fig = plt.figure(figsize=(W / 100, H / 100), dpi=100)


def fx(px):
    return px / W


def fy(py):
    return 1 - py / H


def make_axes(left, right, top, bottom, xlim, xmajor):
    ax = fig.add_axes([fx(left), fy(bottom), (right - left) / W, (bottom - top) / H])
    ax.set_xlim(*xlim)
    ax.set_ylim(0, 6)
    for side in ['top', 'right']:
        ax.spines[side].set_visible(False)
    for side in ['left', 'bottom']:
        ax.spines[side].set_linewidth(2.2)
    ax.patch.set_alpha(0)
    ax.set_xticks(xmajor)
    ax.set_xticks(list(range(xlim[0], xlim[1] + 1)), minor=True)
    ax.set_yticks([0, 2, 4, 6])
    ax.tick_params(axis='x', which='major', length=9.4, width=2.2, labelsize=17.5, pad=5)
    ax.tick_params(axis='y', which='major', length=7.5, width=2.2, labelsize=17.5, pad=4)
    ax.tick_params(axis='x', which='minor', length=5.6, width=2.2)
    for lab in ax.get_xticklabels() + ax.get_yticklabels():
        lab.set_fontweight('bold')
    ax.axhline(1.3, color='#555555', lw=.75, ls=(0, (3, 1.5)), zorder=4)
    return ax


def scatter_bg(ax, points, color, alpha=1.0):
    xs = [p[0] for p in points]
    ys = [p[1] for p in points]
    ax.scatter(xs, ys, s=9.5, c=color, alpha=alpha, linewidths=0, zorder=2, clip_on=False)


def scatter_hl(ax, xs, ys, color):
    ax.scatter(xs, ys, s=36, c=color, linewidths=0, zorder=5, clip_on=False)


def put_labels(labels):
    for name, px, py in labels:
        fig.text(fx(px), fy(py + 1), name, fontsize=9.2, fontweight='bold', va='center', ha='left', zorder=10)


ax_a = make_axes(80, 559, 121, 442, (-7, 7), [-5, 0, 5])
scatter_bg(ax_a, ad_lower + ad_lower_core, '#8c8c8c', .55)
scatter_bg(ax_a, ad_upper + ad_upper_core, GREY)
scatter_hl(ax_a, a_nup_x, a_nup_y, SKY)
scatter_hl(ax_a, a_oth_x, a_oth_y, TEAL)
scatter_hl(ax_a, a_sac_x, a_sac_y, PINK)
scatter_hl(ax_a, a_apc_x, a_apc_y, NAVY)
put_labels(a_labels)

ax_b = make_axes(722, 1200, 121, 440, (-5, 10), [-5, 0, 5, 10])
scatter_bg(ax_b, b_lower + b_lower_core, '#8c8c8c', .55)
scatter_bg(ax_b, b_upper + b_upper_core, GREY)
scatter_hl(ax_b, b_oth_x, b_oth_y, TEAL)
scatter_hl(ax_b, b_nup_x, b_nup_y, SKY)
scatter_hl(ax_b, b_sac_x, b_sac_y, PINK)
scatter_hl(ax_b, b_apc_x, b_apc_y, NAVY)
put_labels(b_labels)

ax_c = make_axes(79, 558, 667, 986, (-5, 10), [-5, 0, 5, 10])
scatter_bg(ax_c, c_lower + c_lower_core, 'black', .55)
scatter_bg(ax_c, c_upper + c_upper_core, GREY)
scatter_hl(ax_c, c_apc_x, c_apc_y, NAVY)
scatter_hl(ax_c, c_oth_x, c_oth_y, TEAL)
scatter_hl(ax_c, c_sac_x, c_sac_y, PINK)
put_labels(c_labels)

ax_d = make_axes(717, 1197, 668, 988, (-7, 7), [-5, 0, 5])
scatter_bg(ax_d, ad_lower + ad_lower_core, GREY)
scatter_bg(ax_d, ad_upper + ad_upper_core, GREY)
scatter_hl(ax_d, d_nup_x, d_nup_y, BLUE)
put_labels(d_labels)

# titles
fig.text(fx(339), fy(23), 'GFP-Mad1 arrested vs cycling', fontsize=13.65, fontweight='bold', ha='center', va='center')
fig.text(fx(985), fy(27), 'GFP-Mad1 arrested vs WT arrested', fontsize=13.7, fontweight='bold', ha='center', va='center')
fig.text(fx(321), fy(620), 'GFP-Mad1 cycling vs WT arrested', fontsize=13.65, fontweight='bold', ha='center', va='center')
fig.text(fx(957), fy(616), 'GFP-Mad1 arrested vs cycling', fontsize=12.2, fontweight='bold', ha='center', va='center')

# panel letters
for letter, px, py in [('A', 19, 19), ('B', 725, 23), ('C', 19, 614), ('D', 725, 615)]:
    fig.text(fx(px), fy(py), letter, fontsize=17, fontweight='bold', ha='center', va='center')

# axis titles
for px, py in [(319, 495), (961, 490), (313, 1037), (957, 1050)]:
    fig.text(fx(px), fy(py), 'Difference', fontsize=12, fontweight='bold', ha='center', va='center')
for px, py in [(32, 283), (675, 274), (32, 829), (666, 826)]:
    fig.text(fx(px), fy(py), 'Confidence', fontsize=12.2, fontweight='bold', ha='center', va='center', rotation=90)

# legend of panel A
for name, color, py, tx in zip(legend_names, legend_colors, [84, 111, 137, 162], [455, 454, 453, 454]):
    fig.text(fx(tx), fy(py), name, fontsize=14.1, fontweight='bold', ha='left', va='center')
    fig.add_artist(plt.Line2D([fx(443)], [fy(py - 1)], marker='o', ms=5.8, color=color, mew=0, transform=fig.transFigure))

fig.savefig('out.png', dpi=100)
